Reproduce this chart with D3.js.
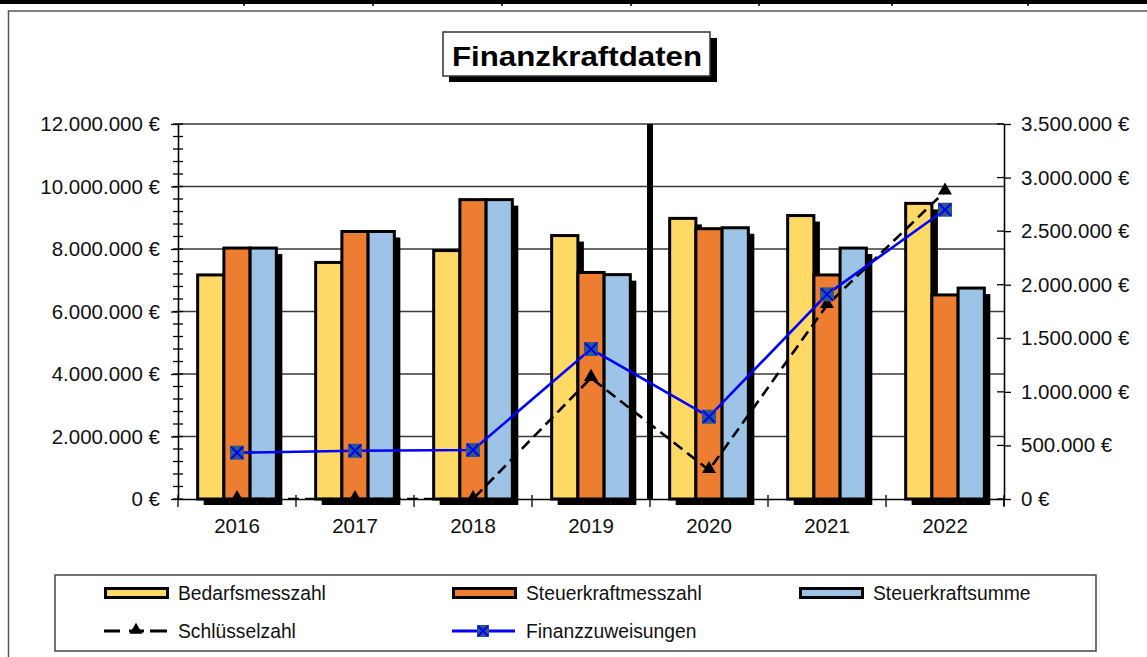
<!doctype html>
<html>
  <head>
    <meta charset="utf-8">
    <script src="https://cdn.jsdelivr.net/npm/d3@7/dist/d3.min.js"></script>
    <style>
      body { margin: 0; background: #fff; }
      svg { display: block; }
    </style>
  </head>
  <body>
    <svg id="chart" width="1147" height="657"></svg>

    <script>
      // values
      var years = ["2016", "2017", "2018", "2019", "2020", "2021", "2022"];
      var bedarfsmesszahl     = [7170000, 7570000, 7950000, 8430000, 8980000, 9070000, 9460000];
      var steuerkraftmesszahl = [8030000, 8560000, 9580000, 7250000, 8650000, 7170000, 6530000];
      var steuerkraftsumme    = [8030000, 8560000, 9580000, 7180000, 8680000, 8030000, 6750000];
      var schluesselzahl      = [0, 0, 0, 1130000, 270000, 1810000, 2870000];
      var finanzzuweisungen   = [432000, 450000, 457000, 1400000, 768000, 1910000, 2700000];

      var leftTicks  = [0, 2000000, 4000000, 6000000, 8000000, 10000000, 12000000];
      var rightTicks = [0, 500000, 1000000, 1500000, 2000000, 2500000, 3000000, 3500000];

      var barSeries = [
        { name: "Bedarfsmesszahl",     values: bedarfsmesszahl,     color: "#FFD966" },
        { name: "Steuerkraftmesszahl", values: steuerkraftmesszahl, color: "#ED7D31" },
        { name: "Steuerkraftsumme",    values: steuerkraftsumme,    color: "#9DC3E6" }
      ];

      var font = "'Liberation Sans', Arial, sans-serif";
      var svg = d3.select("#chart");

      // german currency format: 12.000.000 €
      var de = d3.formatLocale({ decimal: ",", thousands: ".", grouping: [3], currency: ["", " €"] });
      var eur = de.format("$,.0f");

      // plot area (note: "top" is reserved on window, so use other names)
      var pL = 178, pR = 1004, pT = 124, pB = 499;

      var x = d3.scaleBand().domain(years).range([pL, pR]);
      var xs = d3.scaleBand().domain(barSeries.map(function(s) { return s.name; }))
        .range([0, x.bandwidth()]).paddingInner(0).paddingOuter(0.75);
      var yL = d3.scaleLinear().domain([0, 12000000]).range([pB, pT]);
      var yR = d3.scaleLinear().domain([0, 3500000]).range([pB, pT]);

      svg.append("clipPath").attr("id", "plotClip").append("rect")
        .attr("x", pL - 30).attr("y", pT - 40).attr("width", pR - pL + 60).attr("height", pB - pT + 40);

      // page furniture: table border strip and outer frame
      svg.append("rect").attr("x", 0).attr("y", 0).attr("width", 1147).attr("height", 4).attr("fill", "#000");
      svg.selectAll(".sep").data([244, 373, 502, 631, 759, 892, 1028]).enter().append("line")
        .attr("x1", function(d) { return d; }).attr("x2", function(d) { return d; })
        .attr("y1", 0).attr("y2", 6).attr("stroke", "#000").attr("stroke-width", 1.5);
      svg.append("rect").attr("x", 8.5).attr("y", 11).attr("width", 1150).attr("height", 660)
        .attr("fill", "none").attr("stroke", "#555").attr("stroke-width", 1.5);

      // gridlines
      svg.selectAll(".grid").data(leftTicks.slice(1)).enter().append("line")
        .attr("x1", pL).attr("x2", pR)
        .attr("y1", function(d) { return yL(d); }).attr("y2", function(d) { return yL(d); })
        .attr("stroke", "#3a3a3a").attr("stroke-width", 1.3);

      // bars with drop shadows
      var groups = svg.selectAll(".year").data(years).enter().append("g")
        .attr("transform", function(d) { return "translate(" + x(d) + ",0)"; });

      barSeries.forEach(function(s) {
        groups.append("rect")
          .attr("x", xs(s.name) + 6)
          .attr("y", function(d, i) { return yL(s.values[i]) + 6; })
          .attr("width", xs.bandwidth())
          .attr("height", function(d, i) { return pB - yL(s.values[i]); })
          .attr("fill", "#000");
        groups.append("rect")
          .attr("x", xs(s.name))
          .attr("y", function(d, i) { return yL(s.values[i]); })
          .attr("width", xs.bandwidth())
          .attr("height", function(d, i) { return pB - yL(s.values[i]); })
          .attr("fill", s.color)
          .attr("stroke", "#000").attr("stroke-width", 3);
      });

      // left axis
      var axL = svg.append("g").attr("transform", "translate(" + pL + ",0)")
        .call(d3.axisLeft(yL).tickValues(leftTicks).tickFormat(eur).tickSizeInner(7).tickSizeOuter(0).tickPadding(11));
      svg.selectAll(".minorL").data(d3.range(0, 12000001, 400000)).enter().append("line")
        .attr("x1", pL - 5).attr("x2", pL + 5)
        .attr("y1", function(d) { return yL(d); }).attr("y2", function(d) { return yL(d); })
        .attr("stroke", "#000").attr("stroke-width", 1.3);

      // right axis
      var axR = svg.append("g").attr("transform", "translate(" + pR + ",0)")
        .call(d3.axisRight(yR).tickValues(rightTicks).tickFormat(eur).tickSizeInner(7).tickSizeOuter(0).tickPadding(10));
      svg.selectAll(".innerR").data(rightTicks).enter().append("line")
        .attr("x1", pR - 7).attr("x2", pR)
        .attr("y1", function(d) { return yR(d); }).attr("y2", function(d) { return yR(d); })
        .attr("stroke", "#000").attr("stroke-width", 1.3);
      svg.append("line").attr("x1", pR).attr("x2", pR).attr("y1", pB).attr("y2", pB + 7)
        .attr("stroke", "#000").attr("stroke-width", 1.5);

      // bottom axis
      var axB = svg.append("g").attr("transform", "translate(0," + pB + ")")
        .call(d3.axisBottom(x).tickSize(0).tickPadding(19));
      svg.selectAll(".catTick").data(years.concat(["end"])).enter().append("line")
        .attr("x1", function(d) { return d === "end" ? pR : x(d); })
        .attr("x2", function(d) { return d === "end" ? pR : x(d); })
        .attr("y1", pB - 4).attr("y2", pB + 8)
        .attr("stroke", "#000").attr("stroke-width", 1.3);

      [axL, axR, axB].forEach(function(ax) {
        ax.selectAll("text").attr("font-family", font).attr("font-size", 20.5).attr("fill", "#111");
        ax.selectAll("line").attr("stroke", "#000").attr("stroke-width", 1.3);
        ax.select(".domain").attr("stroke", "#000").attr("stroke-width", 1.6);
      });

      // thick separator between 2019 and 2020
      svg.append("line").attr("x1", x("2020")).attr("x2", x("2020"))
        .attr("y1", pT).attr("y2", pB)
        .attr("stroke", "#000").attr("stroke-width", 6);

      var cx = function(d, i) { return x(years[i]) + x.bandwidth() / 2; };

      // Schlüsselzahl (line clipped at the zero line like the original)
      var line = d3.line().x(cx).y(function(d) { return yR(d); });
      svg.append("path").attr("d", line(schluesselzahl))
        .attr("clip-path", "url(#plotClip)")
        .attr("fill", "none").attr("stroke", "#000").attr("stroke-width", 2.6)
        .attr("stroke-dasharray", "11,6");
      svg.selectAll(".tri").data(schluesselzahl).enter().append("path")
        .attr("d", d3.symbol(d3.symbolTriangle, 85))
        .attr("transform", function(d, i) { return "translate(" + cx(d, i) + "," + (yR(d) - 1) + ")"; })
        .attr("fill", "#000");

      // Finanzzuweisungen
      svg.append("path").attr("d", line(finanzzuweisungen))
        .attr("fill", "none").attr("stroke", "#0000FF").attr("stroke-width", 2.6);
      var mk = svg.selectAll(".sq").data(finanzzuweisungen).enter().append("g")
        .attr("transform", function(d, i) { return "translate(" + cx(d, i) + "," + yR(d) + ")"; });
      mk.append("rect").attr("x", -7).attr("y", -7).attr("width", 14).attr("height", 14)
        .attr("fill", "#2C5A86");
      mk.append("path").attr("d", "M-6,-6L6,6M6,-6L-6,6")
        .attr("stroke", "#0000FF").attr("stroke-width", 2);

      // title
      svg.append("rect").attr("x", 449).attr("y", 38).attr("width", 268).attr("height", 44).attr("fill", "#000");
      svg.append("rect").attr("x", 443).attr("y", 32).attr("width", 267).attr("height", 44)
        .attr("fill", "#fff").attr("stroke", "#333").attr("stroke-width", 1.5);
      svg.append("text").attr("x", 452).attr("y", 66)
        .attr("font-family", font).attr("font-weight", "bold").attr("font-size", 28.5)
        .attr("textLength", 250).attr("lengthAdjust", "spacingAndGlyphs")
        .attr("fill", "#000").text("Finanzkraftdaten");

      // legend
      svg.append("rect").attr("x", 55).attr("y", 575).attr("width", 1041).attr("height", 76)
        .attr("fill", "#fff").attr("stroke", "#444").attr("stroke-width", 1.5);

      var cols = [104, 452, 799];
      var legendItems = [
        { name: "Bedarfsmesszahl",     type: "bar", color: barSeries[0].color, col: 0, row: 0 },
        { name: "Steuerkraftmesszahl", type: "bar", color: barSeries[1].color, col: 1, row: 0 },
        { name: "Steuerkraftsumme",    type: "bar", color: barSeries[2].color, col: 2, row: 0 },
        { name: "Schlüsselzahl",       type: "dash", col: 0, row: 1 },
        { name: "Finanzzuweisungen",   type: "blue", col: 1, row: 1 }
      ];
      var rows = [593, 631];

      legendItems.forEach(function(it) {
        var lx = cols[it.col], ly = rows[it.row];
        var g = svg.append("g").attr("transform", "translate(" + lx + "," + ly + ")");
        if (it.type === "bar") {
          g.append("rect").attr("x", 1.5).attr("y", -4.5).attr("width", 62).attr("height", 9)
            .attr("fill", it.color).attr("stroke", "#000").attr("stroke-width", 3);
        } else if (it.type === "dash") {
          g.append("path").attr("d", "M0,0H16M46,0H63").attr("stroke", "#000").attr("stroke-width", 3);
          g.append("path").attr("d", "M25,0H40").attr("stroke", "#000").attr("stroke-width", 3);
          g.append("path").attr("d", d3.symbol(d3.symbolTriangle, 70))
            .attr("transform", "translate(32,-1)").attr("fill", "#000");
        } else {
          g.append("path").attr("d", "M0,0H63").attr("stroke", "#0000FF").attr("stroke-width", 3);
          g.append("rect").attr("x", 25).attr("y", -6).attr("width", 12).attr("height", 12).attr("fill", "#2C5A86");
          g.append("path").attr("d", "M26,-5L36,5M36,-5L26,5").attr("stroke", "#0000FF").attr("stroke-width", 2);
        }
        g.append("text").attr("x", 74).attr("y", 0).attr("dy", "0.35em")
          .attr("font-family", font).attr("font-size", 19.3).attr("fill", "#111")
          .text(it.name);
      });
    </script>
  </body>
</html>
